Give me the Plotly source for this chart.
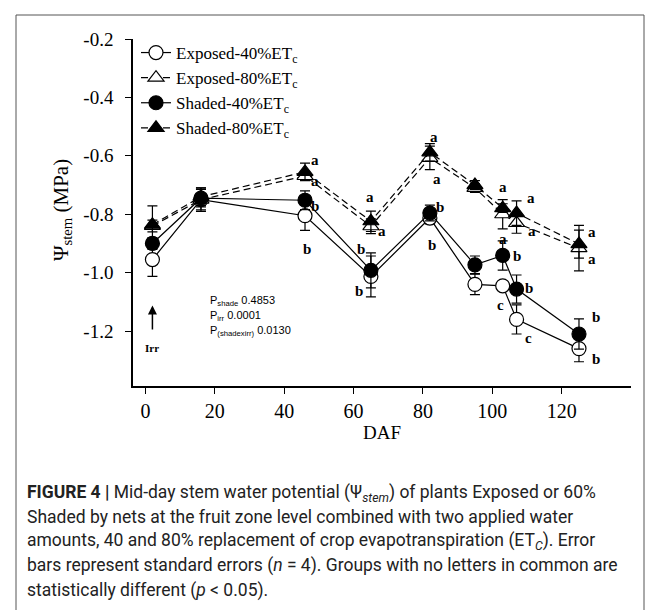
import plotly.graph_objects as go

# ---------------- data ----------------
daf = [2, 16, 46, 65, 82, 95, 103, 107, 125]

exp40 = [-0.955, -0.750, -0.805, -1.013, -0.813, -1.040, -1.045, -1.160, -1.260]
exp40_se = [0.058, 0.035, 0.050, 0.070, 0.020, 0.035, 0.012, 0.050, 0.045]

exp80 = [-0.840, -0.750, -0.669, -0.841, -0.607, -0.710, -0.800, -0.830, -0.916]
exp80_se = [0.020, 0.040, 0.015, 0.025, 0.040, 0.015, 0.050, 0.035, 0.078]

sha40 = [-0.900, -0.745, -0.752, -0.992, -0.796, -0.973, -0.941, -1.056, -1.210]
sha40_se = [0.020, 0.030, 0.032, 0.060, 0.027, 0.030, 0.050, 0.048, 0.052]

sha80 = [-0.836, -0.740, -0.655, -0.824, -0.588, -0.700, -0.779, -0.796, -0.902]
sha80_se = [0.065, 0.030, 0.030, 0.035, 0.030, 0.015, 0.015, 0.042, 0.048]

series_names = ["Exposed-40%ET<sub>c</sub>", "Exposed-80%ET<sub>c</sub>",
                "Shaded-40%ET<sub>c</sub>", "Shaded-80%ET<sub>c</sub>"]

# significance letters: (DAF, psi, letter)
letter_x = [49, 49, 49, 46.5, 64.6, 68.2, 62.2, 61.7, 83.1, 84.1, 84.8, 82.6,
            103.2, 111.2, 111.4, 103.0, 107.1, 102.4, 110.7, 110.4,
            128.7, 128.7, 129.9, 129.9]
letter_y = [-0.614, -0.686, -0.771, -0.919, -0.742, -0.859, -0.918, -1.062,
            -0.537, -0.678, -0.776, -0.904,
            -0.708, -0.745, -0.859, -0.885, -0.942, -1.110, -1.053, -1.224,
            -0.862, -0.952, -1.152, -1.295]
letter_t = ["a", "a", "b", "b", "a", "a", "b", "b", "a", "a", "b", "b",
            "a", "a", "a", "a", "b", "c", "b", "c",
            "a", "a", "b", "b"]

p_labels = ["P<sub>shade</sub> 0.4853", "P<sub>irr</sub> 0.0001",
            "P<sub>(shadexirr)</sub> 0.0130"]

y_ticks = [-1.2, -1.0, -0.8, -0.6, -0.4, -0.2]
y_ticktext = ["-1.2", "-1.0", "-0.8", "-0.6", "-0.4", "-0.2"]
x_ticks = [0, 20, 40, 60, 80, 100, 120]

caption_lines = [
    "<b>FIGURE 4 |</b> Mid-day stem water potential (Ψ<sub><i>stem</i></sub>) of plants Exposed or 60%",
    "Shaded by nets at the fruit zone level combined with two applied water",
    "amounts, 40 and 80% replacement of crop evapotranspiration (ET<sub><i>C</i></sub>). Error",
    "bars represent standard errors (<i>n</i> = 4). Groups with no letters in common are",
    "statistically different (<i>p</i> &lt; 0.05).",
]

# ---------------- layout geometry (pixels) ----------------
W, H = 657, 610
L, R, T, B = 125, 34, 31, 232
PW, PH = W - L - R, H - T - B


def px(xp):
    return (xp - L) / PW


def py(yp):
    return (H - B - yp) / PH


SERIF = "Liberation Serif, Times New Roman, serif"
SANS = "Liberation Sans, Arial, sans-serif"

fig = go.Figure()

styles = [
    (exp40, exp40_se, "circle", "white", "solid"),
    (exp80, exp80_se, "triangle-up", "white", "7px,4px"),
    (sha40, sha40_se, "circle", "black", "solid"),
    (sha80, sha80_se, "triangle-up", "black", "7px,4px"),
]
for name, (vals, se, sym, fill, dash) in zip(series_names, styles):
    fig.add_trace(go.Scatter(
        x=daf, y=vals, name=name, mode="lines+markers",
        line=dict(color="black", width=1.2, dash=dash),
        marker=dict(symbol=sym, size=14, color=fill,
                    line=dict(color="black", width=1.2)),
        error_y=dict(type="data", array=se, visible=True, color="black",
                     thickness=1.2, width=5),
    ))

for lx, ly, lt in zip(letter_x, letter_y, letter_t):
    fig.add_annotation(x=lx, y=ly, text="<b>%s</b>" % lt, showarrow=False,
                       font=dict(family=SERIF, size=15, color="black"))

p_y = [-1.097, -1.149, -1.200]
for t, yy in zip(p_labels, p_y):
    fig.add_annotation(x=18, y=yy, text=t, showarrow=False, xanchor="left",
                       font=dict(family=SANS, size=11, color="black"))

# irrigation arrow
fig.add_annotation(x=2, y=-1.112, ax=2, ay=-1.200, axref="x", ayref="y",
                   text="", showarrow=True, arrowhead=2, arrowsize=1.2,
                   arrowwidth=1.5, arrowcolor="black")
fig.add_annotation(x=2, y=-1.258, text="<b>Irr</b>", showarrow=False,
                   font=dict(family=SERIF, size=11, color="black"))

# y-axis title
fig.add_annotation(x=px(54), y=py(202), xref="paper", yref="paper",
                   xanchor="center", yanchor="middle",
                   text="Ψ<sub>stem</sub> (MPa)", textangle=-90, showarrow=False,
                   font=dict(family=SERIF, size=21, color="black"))

# caption
cap_y = [485, 509, 533, 557, 582]
for t, yy in zip(caption_lines, cap_y):
    fig.add_annotation(x=px(17), y=py(yy), xref="paper", yref="paper",
                       xanchor="left", yanchor="middle", text=t, showarrow=False,
                       font=dict(family="Roboto, sans-serif",
                                 size=17.5, color="#222"))

# outer frame
fig.add_shape(type="rect", xref="paper", yref="paper",
              x0=px(8), x1=px(636), y0=py(604), y1=py(7),
              line=dict(color="#555", width=1))

fig.update_layout(
    width=W, height=H,
    margin=dict(l=L, r=R, t=T, b=B, autoexpand=False),
    paper_bgcolor="white", plot_bgcolor="white",
    showlegend=True,
    legend=dict(x=px(128), y=py(27), xanchor="left", yanchor="top",
                font=dict(family=SERIF, size=17, color="black"),
                bgcolor="rgba(0,0,0,0)", tracegroupgap=0, itemwidth=30),
    xaxis=dict(range=[-3.6, 140], tickvals=x_ticks, showgrid=False,
               zeroline=False, showline=True, linecolor="black", linewidth=1.5,
               ticks="outside", ticklen=6, tickcolor="black", tickwidth=1.2,
               tickfont=dict(family=SERIF, size=20, color="black"),
               title=dict(text="DAF", standoff=4,
                          font=dict(family=SERIF, size=19, color="black"))),
    yaxis=dict(range=[-1.388, -0.2], tickvals=y_ticks, ticktext=y_ticktext,
               showgrid=False, zeroline=False, showline=True, linecolor="black",
               linewidth=1.5, ticks="outside", ticklen=6, tickcolor="black",
               tickwidth=1.2, ticklabelstandoff=8,
               tickfont=dict(family=SERIF, size=19, color="black")),
)

fig.write_html("out.html")
